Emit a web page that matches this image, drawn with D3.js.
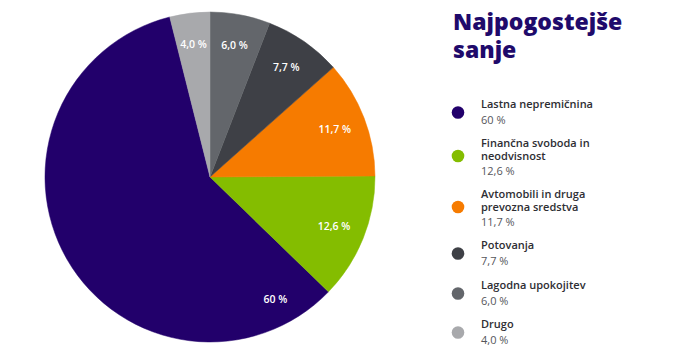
<!DOCTYPE html>
<html>
<head>
<meta charset="utf-8">
<script src="https://cdn.jsdelivr.net/npm/d3@7"></script>
<style>
	body { margin: 0; background: #fff; }
	svg { display: block; font-family: "Open Sans", Inter, sans-serif; }
</style>
</head>
<body>
<div id="chart"></div>
<script>
// Data (legend order)
var categories = [
	["Lastna nepremičnina"],
	["Finančna svoboda in", "neodvisnost"],
	["Avtomobili in druga", "prevozna sredstva"],
	["Potovanja"],
	["Lagodna upokojitev"],
	["Drugo"]
];
var values = [60, 12.6, 11.7, 7.7, 6.0, 4.0];
var valueLabels = ["60 %", "12,6 %", "11,7 %", "7,7 %", "6,0 %", "4,0 %"];
// clockwise order of the slices starting at 12 o'clock
var pieOrder = [4, 3, 2, 1, 0, 5];
var colors = ["#22006b", "#84bd00", "#f67b00", "#3e4046", "#63666b", "#a8a9ac"];
var title = ["Najpogostejše", "sanje"];

var width = 700, height = 354;
var cx = 210, cy = 177, radius = 165;

var svg = d3.select("#chart").append("svg")
	.attr("width", width)
	.attr("height", height);

var data = values.map(function(v, i){ return {i: i, value: v}; });

var pie = d3.pie()
	.value(function(d){ return d.value; })
	.sort(function(a, b){ return pieOrder.indexOf(a.i) - pieOrder.indexOf(b.i); });

var arc = d3.arc().innerRadius(0).outerRadius(radius);

var g = svg.append("g").attr("transform", "translate(" + cx + "," + cy + ")");
var arcs = pie(data);

g.selectAll("path.slice")
	.data(arcs)
	.enter().append("path")
	.attr("class", "slice")
	.attr("d", arc)
	.style("fill", function(d){ return colors[d.data.i]; })
	.style("stroke", function(d){ return colors[d.data.i]; })
	.style("stroke-width", 0.5);

// Slice labels; the big slice has its label pushed near its start
var labelR = radius * 0.81;
g.selectAll("text.slabel")
	.data(arcs)
	.enter().append("text")
	.attr("class", "slabel")
	.attr("text-anchor", "middle")
	.attr("dy", "0.35em")
	.attr("transform", function(d){
		var big = (d.endAngle - d.startAngle) > Math.PI;
		var a = big ? d.startAngle + 0.31 : (d.startAngle + d.endAngle) / 2;
		var r = big ? radius * 0.84 : labelR;
		return "translate(" + (r * Math.sin(a)) + "," + (-r * Math.cos(a)) + ")";
	})
	.style("fill", "#fff")
	.style("font-size", "10.5px")
	.style("font-weight", 600)
	.text(function(d){ return valueLabels[d.data.i]; });

// Title
svg.append("text")
	.attr("x", 453)
	.attr("y", 30)
	.style("fill", "#1f0a6b")
	.style("font-size", "23px")
	.style("font-weight", 800)
	.selectAll("tspan")
	.data(title)
	.enter().append("tspan")
	.attr("x", 453)
	.attr("dy", function(d, i){ return i ? 28 : 0; })
	.text(function(d){ return d; });

// Legend
var rowTop = [108, 147, 198, 249, 289, 328];
var legend = svg.append("g").attr("class", "legend");
var rows = legend.selectAll("g.row")
	.data(categories)
	.enter().append("g")
	.attr("class", "row")
	.attr("transform", function(d, i){ return "translate(0," + rowTop[i] + ")"; });

rows.append("circle")
	.attr("cx", 458)
	.attr("cy", function(d){ return d.length > 1 ? 9 : 4.5; })
	.attr("r", 6.3)
	.style("fill", function(d, i){ return colors[i]; });

rows.each(function(d, i){
	var t = d3.select(this);
	d.forEach(function(line, j){
		t.append("text")
			.attr("x", 481)
			.attr("y", j * 12.5)
			.style("fill", "#2e2e33")
			.style("font-size", "11px")
			.style("font-weight", 600)
			.text(line);
	});
	t.append("text")
		.attr("x", 481)
		.attr("y", (d.length - 1) * 12.5 + 15.5)
		.style("fill", "#55565b")
		.style("font-size", "11px")
		.style("font-weight", 400)
		.text(valueLabels[i]);
});
</script>
</body>
</html>
